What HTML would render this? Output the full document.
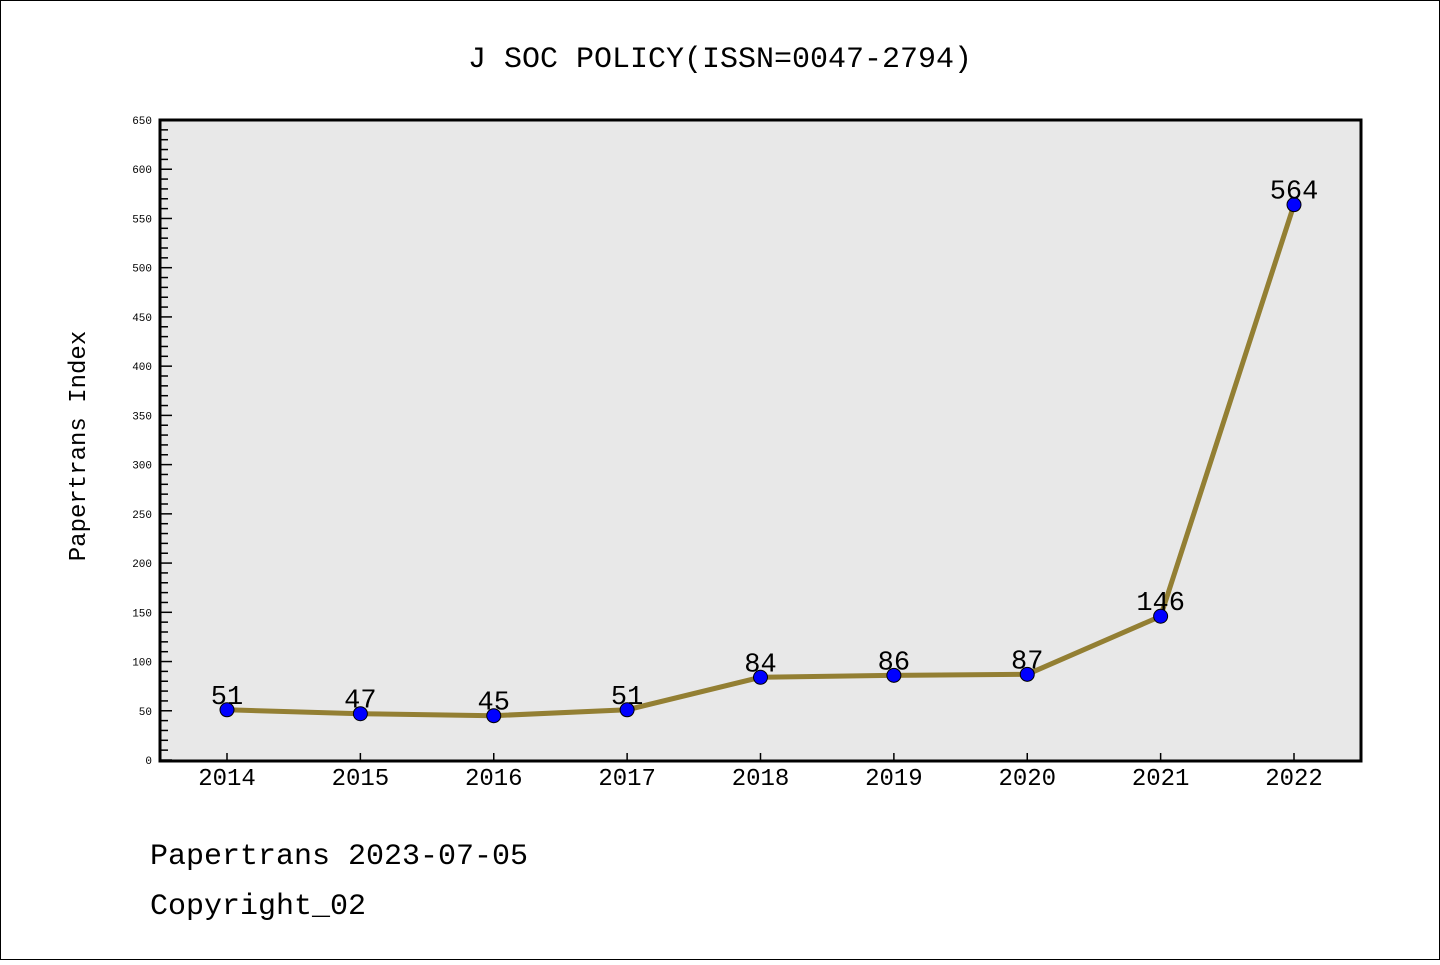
<!DOCTYPE html>
<html><head><meta charset="utf-8"><style>
body{margin:0;background:#fff;}
svg text{font-family:"Liberation Mono","DejaVu Sans Mono",monospace;}
</style></head><body>
<svg width="1440" height="960" xmlns="http://www.w3.org/2000/svg">
<rect x="0.5" y="0.5" width="1439" height="959" fill="#fff" stroke="#000"/>
<text x="720" y="67" text-anchor="middle" font-size="30">J SOC POLICY(ISSN=0047-2794)</text>
<rect x="160" y="120" width="1201" height="641" fill="#e8e8e8"/>
<g id="axes"></g>
<polyline id="line" fill="none" stroke="#937f33" stroke-width="5"/>
<g id="marks"></g>
<rect x="160" y="120" width="1201" height="641" fill="none" stroke="#000" stroke-width="3"/>
<text transform="translate(85,446) rotate(-90)" text-anchor="middle" font-size="24">Papertrans Index</text>
<text x="150" y="864" font-size="30">Papertrans 2023-07-05</text>
<text x="150" y="914" font-size="30">Copyright_02</text>
</svg>
<script>
const years=["2014","2015","2016","2017","2018","2019","2020","2021","2022"];
const values=[51,47,45,51,84,86,87,146,564];
const yTicks=[0,50,100,150,200,250,300,350,400,450,500,550,600,650];
const NS="http://www.w3.org/2000/svg";
const x=i=>227+i*(1294-227)/(years.length-1);
const y=v=>760-v*640/650;
const axes=document.getElementById('axes'),marks=document.getElementById('marks');
function mk(t,a,p){const e=document.createElementNS(NS,t);for(const k in a)e.setAttribute(k,a[k]);p.appendChild(e);return e;}
for(let v=0;v<=650;v+=10){const major=v%50===0;
 const l=mk('line',{x1:160,x2:major?172:168,y1:y(v),y2:y(v),stroke:'#000','stroke-width':1.5},axes);
 
 }
yTicks.forEach(v=>{const t=mk('text',{x:152,y:y(v)+4,'text-anchor':'end','font-size':11,'font-family':'DejaVu Sans, sans-serif'},axes);t.textContent=v;
 
 });
years.forEach((yr,i)=>{const l=mk('line',{x1:x(i),x2:x(i),y1:761,y2:753,stroke:'#000','stroke-width':1.5},axes);
 
 
 const t=mk('text',{x:x(i),y:785,'text-anchor':'middle','font-size':24,'font-family':'DejaVu Sans, sans-serif'},axes);t.textContent=yr;
 
 });
document.getElementById('line').setAttribute('points',values.map((v,i)=>x(i)+','+y(v)).join(' '));
values.forEach((v,i)=>{const c=mk('circle',{cx:x(i),cy:y(v),r:7,fill:'#0000ff',stroke:'#000','stroke-width':1},marks);
 
 
 const t=mk('text',{x:x(i),y:y(v)-6,'text-anchor':'middle','font-size':27,'font-family':'DejaVu Sans, sans-serif'},marks);t.textContent=v;
 
 });
</script>
</body></html>
